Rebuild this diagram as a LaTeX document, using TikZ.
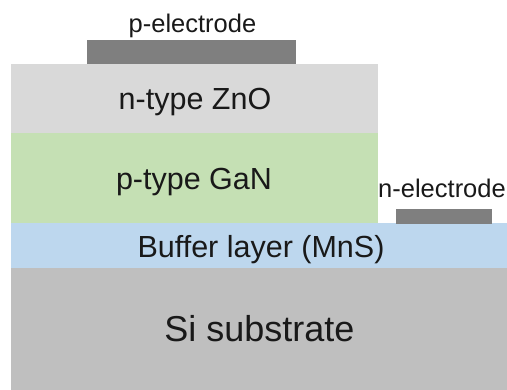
\documentclass[tikz,border=0pt]{standalone}
\usepackage{fontspec}
\setmainfont{Liberation Sans}
\definecolor{zno}{HTML}{D9D9D9}
\definecolor{gan}{HTML}{C5E0B4}
\definecolor{buffer}{HTML}{BDD7EE}
\definecolor{substrate}{HTML}{BFBFBF}
\definecolor{metal}{HTML}{7F7F7F}
\begin{document}
\begin{tikzpicture}[x=1pt,y=-1pt,
  layertext/.style={anchor=base,inner sep=0pt,text=black!90,font=\fontsize{30.5}{32}\selectfont},
  padtext/.style={anchor=base,inner sep=0pt,text=black!90,font=\fontsize{25.5}{27}\selectfont}]
  \useasboundingbox (0,0) rectangle (507,390);
  % layer stack
  \fill[substrate] (11,268) rectangle (507,390);
  \fill[buffer]    (11,223.5) rectangle (507,268);
  \fill[gan]       (11,132.7) rectangle (378.3,223.5);
  \fill[zno]       (11,64) rectangle (378.3,132.7);
  % contacts
  \fill[metal] (86.7,40.3) rectangle (296.3,64);
  \fill[metal] (395.7,209.3) rectangle (491.7,224.3);
  % labels
  \node[padtext] (pel) at (192.5,32.5) {p-electrode};
  \node[layertext] (znol) at (195,110) {n-type ZnO};
  \node[layertext] (ganl) at (194,189.3) {p-type GaN};
  \node[padtext,anchor=base east] (nel) at (506,198) {n-electrode};
  \node[layertext] (bufl) at (261,258) {Buffer layer (MnS)};
  \node[anchor=base,inner sep=0pt,text=black!90,font=\fontsize{36}{38}\selectfont] (sil) at (259.5,341.7) {Si substrate};
\end{tikzpicture}
\end{document}
